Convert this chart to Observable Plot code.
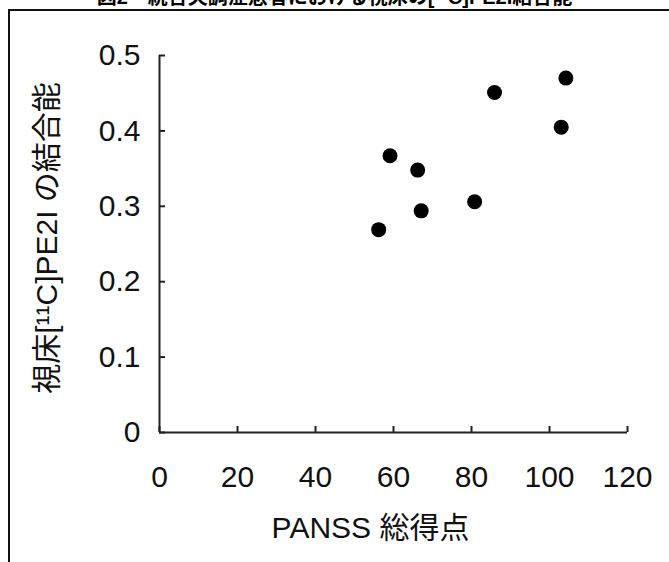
<!DOCTYPE html>
<html>
<head>
<meta charset="utf-8">
<script src="https://cdn.jsdelivr.net/npm/d3@7"></script>
<script src="https://cdn.jsdelivr.net/npm/@observablehq/plot@0.6"></script>
<style>
  html, body { margin: 0; padding: 0; background: #fff; }
  #wrap { position: relative; width: 669px; height: 562px; overflow: hidden; background: #fff; }
  #title { position: absolute; left: 0; width: 669px; top: -13px; text-align: center;
    font: bold 20px "Liberation Sans", Arial, "Noto Sans CJK JP", sans-serif; line-height: 20px; white-space: nowrap; }
  #frame { position: absolute; left: 8px; top: 9px; width: 700px; height: 600px;
    border-top: 2px solid #111; border-left: 2px solid #111; }
  #chart { position: absolute; left: 0; top: 0; }
</style>
</head>
<body>
<div id="wrap">
  <div id="title">図2　統合失調症患者における視床の[¹¹C]PE2I結合能</div>
  <div id="frame"></div>
  <div id="chart"></div>
</div>
<script>
const panssTotal = [56.2, 59.1, 66.2, 67.1, 80.8, 85.9, 103.0, 104.2];
const bindingPotential = [0.269, 0.367, 0.348, 0.294, 0.306, 0.451, 0.405, 0.470];
const xTicks = [0, 20, 40, 60, 80, 100, 120];
const yTicks = [0, 0.1, 0.2, 0.3, 0.4, 0.5];
const xLabel = "PANSS 総得点";
const yLabel = "視床[¹¹C]PE2I の結合能";

const points = panssTotal.map((x, i) => ({x, y: bindingPotential[i]}));
const font = '"Liberation Sans", Arial, "Noto Sans CJK JP", sans-serif';

const chart = Plot.plot({
  width: 669,
  height: 562,
  marginLeft: 159,
  marginRight: 42,
  marginTop: 55,
  marginBottom: 130,
  style: {fontFamily: font, color: "#111", background: "transparent", overflow: "visible"},
  x: {domain: [0, 120]},
  y: {domain: [0, 0.5]},
  marks: [
    Plot.axisX(xTicks, {tickSize: 0, tickPadding: 33, fontSize: 30, tickFormat: d => String(d), label: null}),
    Plot.axisY(yTicks, {tickSize: 0, tickPadding: 19, fontSize: 30, tickFormat: d => String(d), label: null}),
    Plot.axisX(xTicks, {tickSize: -6, tickFormat: () => "", label: null, stroke: "#222", strokeWidth: 2}),
    Plot.axisY(yTicks, {tickSize: -6, tickFormat: () => "", label: null, stroke: "#222", strokeWidth: 2}),
    Plot.ruleX([0], {stroke: "#222", strokeWidth: 2}),
    Plot.ruleY([0], {stroke: "#222", strokeWidth: 2}),
    Plot.dot(points, {x: "x", y: "y", r: 7.5, fill: "#000", stroke: "none"}),
    Plot.text([xLabel], {frameAnchor: "bottom", textAnchor: "middle", dx: -23, dy: 105, fontSize: 30, fill: "#111", letterSpacing: "1px"}),
    Plot.text([yLabel], {frameAnchor: "left", textAnchor: "middle", dx: -112, dy: -6, rotate: -90, fontSize: 30, fill: "#111", letterSpacing: "2px"})
  ]
});
document.getElementById("chart").appendChild(chart);
</script>
</body>
</html>
